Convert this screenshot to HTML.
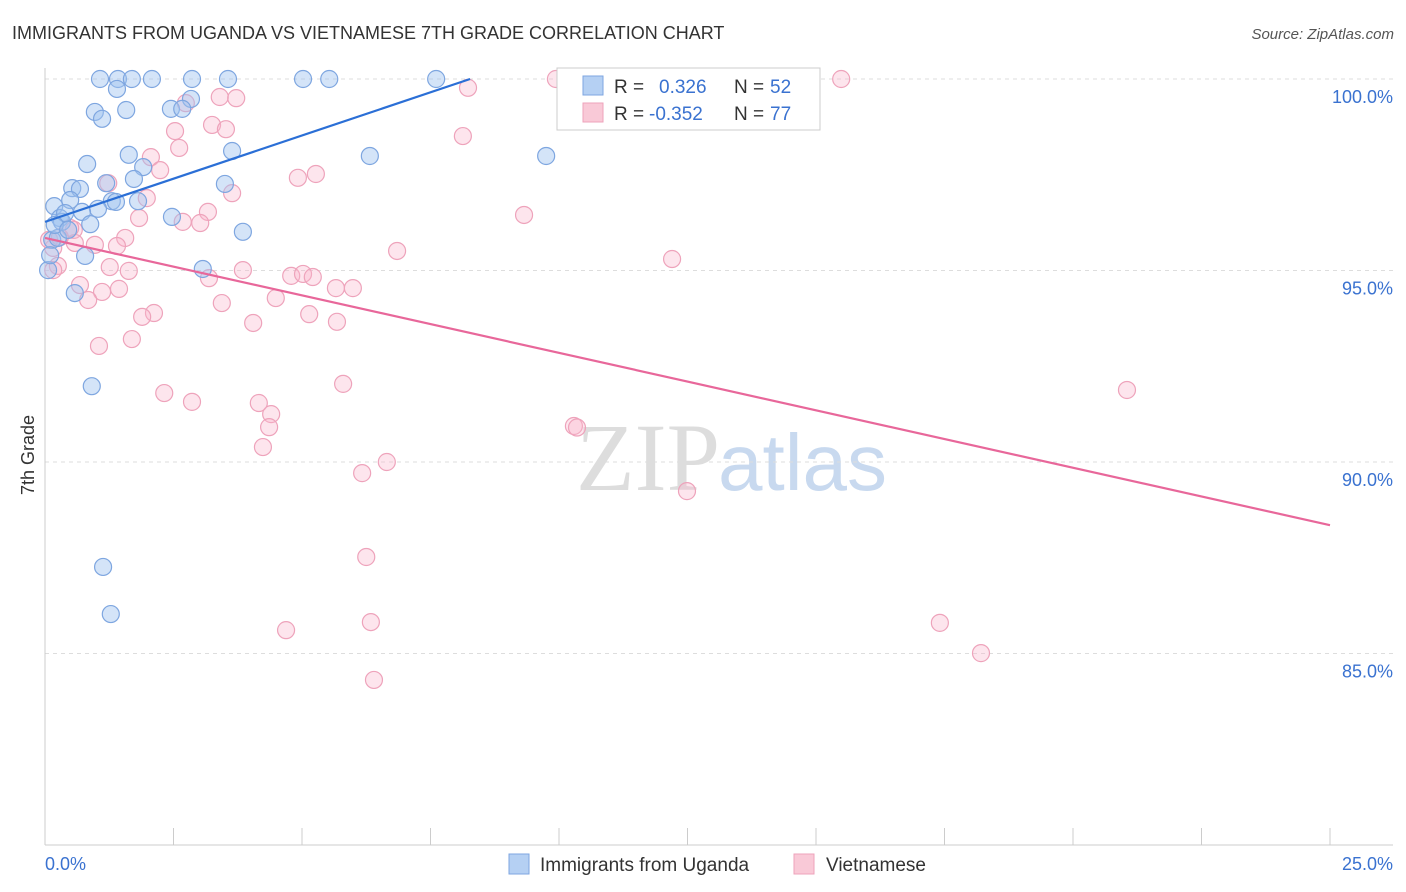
<!DOCTYPE html>
<html><head><meta charset="utf-8"><style>
body{margin:0;background:#fff;font-family:"Liberation Sans",sans-serif;}
svg{display:block}
</style></head><body>
<svg id="chart" width="1406" height="892">
<text x="12" y="39" font-size="18" fill="#333">IMMIGRANTS FROM UGANDA VS VIETNAMESE 7TH GRADE CORRELATION CHART</text>
<text x="1394" y="39" font-size="15" fill="#555" text-anchor="end" font-style="italic">Source: ZipAtlas.com</text>
<text x="720" y="490" font-size="96" fill="#ddd" text-anchor="end" font-family="Liberation Serif,serif">ZIP</text>
<text x="718" y="490" font-size="80" fill="#c8d9ef">atlas</text>
<text transform="translate(34,455) rotate(-90)" font-size="18" fill="#333" text-anchor="middle">7th Grade</text>
<g id="grid"></g><g id="axes"></g><g id="pts"></g><g id="lines"></g>
<g>
<rect x="557" y="68" width="263" height="62" fill="#fff" stroke="#ccc"/>
<rect x="583" y="76" width="20" height="19" fill="#b5d0f3" stroke="#7ea6e0"/>
<text x="614" y="93" font-size="19" fill="#333">R =</text><text x="659" y="93" font-size="19" fill="#3a72d0">0.326</text>
<text x="734" y="93" font-size="19" fill="#333">N =</text><text x="770" y="93" font-size="19" fill="#3a72d0">52</text>
<rect x="583" y="103" width="20" height="19" fill="#f9c9d7" stroke="#eea3bb"/>
<text x="614" y="120" font-size="19" fill="#333">R =</text><text x="649" y="120" font-size="19" fill="#3a72d0">-0.352</text>
<text x="734" y="120" font-size="19" fill="#333">N =</text><text x="770" y="120" font-size="19" fill="#3a72d0">77</text>
</g>
<g>
<rect x="509" y="854" width="20" height="20" fill="#b5d0f3" stroke="#7ea6e0"/>
<text x="540" y="871" font-size="19" fill="#333">Immigrants from Uganda</text>
<rect x="794" y="854" width="20" height="20" fill="#f9c9d7" stroke="#eea3bb"/>
<text x="826" y="871" font-size="19" fill="#333">Vietnamese</text>
</g>
</svg>
<script>
const yTicks=[100,95,90,85];
const yTickLabels=["100.0%","95.0%","90.0%","85.0%"];
const xTickLabels=["0.0%","25.0%"];
const blueX=[1.07,1.42,1.69,2.08,2.86,3.56,5.02,5.53,7.61,1.40,2.84,0.97,1.58,2.45,2.67,1.11,1.63,3.64,6.32,9.75,0.82,1.91,0.53,0.68,1.73,3.50,1.19,0.18,0.49,1.30,1.81,1.38,1.03,0.72,0.29,2.47,0.88,0.33,3.85,0.14,0.25,0.78,3.07,0.06,0.58,0.91,1.13,1.28,0.39,0.19,0.10,0.45];
const blueY=[100,100,100,100,100,100,100,100,100,99.74,99.48,99.14,99.19,99.22,99.22,98.96,98.02,98.12,97.99,97.99,97.78,97.70,97.15,97.13,97.39,97.26,97.28,96.68,96.84,96.81,96.81,96.79,96.61,96.53,96.37,96.40,96.21,96.27,96.01,95.80,95.85,95.38,95.04,95.01,94.41,91.98,87.26,86.03,96.50,96.19,95.40,96.06];
const pinkX=[9.94,15.49,8.23,3.40,3.72,2.74,8.13,3.25,3.52,2.53,2.61,2.06,2.24,4.92,5.27,1.23,3.64,1.98,1.83,3.17,2.68,3.02,9.32,1.56,0.56,0.97,1.40,0.16,0.58,6.85,12.20,0.25,1.26,1.63,3.85,4.79,5.02,5.21,3.19,0.68,1.44,1.11,5.66,5.99,4.49,0.84,3.44,2.12,1.89,5.14,4.05,5.68,1.69,1.05,5.80,2.32,2.86,4.16,4.40,4.36,21.05,10.29,4.24,6.65,6.17,12.49,6.25,6.34,4.69,17.41,18.21,6.40,0.16,0.08,0.29,0.49,10.35];
const pinkY=[100,100,99.77,99.53,99.50,99.37,98.51,98.80,98.69,98.64,98.20,97.96,97.62,97.42,97.52,97.28,97.02,96.89,96.37,96.53,96.27,96.24,96.45,95.85,96.06,95.67,95.64,95.59,95.72,95.51,95.30,95.12,95.09,94.99,95.01,94.86,94.91,94.83,94.80,94.62,94.52,94.44,94.54,94.54,94.28,94.23,94.15,93.89,93.79,93.86,93.63,93.66,93.21,93.03,92.04,91.80,91.57,91.54,91.25,90.91,91.88,90.94,90.39,90.00,89.71,89.24,87.52,85.82,85.61,85.80,85.01,84.31,95.01,95.80,95.87,96.11,90.90];
const blueTrendX=[0,8.27], blueTrendY=[96.27,100];
const pinkTrendX=[0,25], pinkTrendY=[95.85,88.35];
const NS="http://www.w3.org/2000/svg";
const sx=v=>45+v/25*1285;
const sy=v=>79+(100-v)*38.3;
function mk(tag,attrs,parent){const e=document.createElementNS(NS,tag);for(const k in attrs)e.setAttribute(k,attrs[k]);parent.appendChild(e);return e;}
const grid=document.getElementById('grid'),axes=document.getElementById('axes'),pts=document.getElementById('pts'),lines=document.getElementById('lines');
yTicks.forEach((t,i)=>{
 const l=mk('line',{x1:45,x2:1393,y1:sy(t),y2:sy(t),stroke:'#ddd','stroke-dasharray':'4,4'},grid);
 
 
 const tx=mk('text',{x:1393,y:sy(t)+24,'font-size':18,fill:'#3a72d0','text-anchor':'end'},axes);
 tx.textContent=yTickLabels[i];
 
 
});
const ya=mk('line',{x1:45,x2:45,y1:68,y2:845,stroke:'#ccc'},axes);


const xa=mk('line',{x1:45,x2:1393,y1:845,y2:845,stroke:'#ccc'},axes);


for(let i=0;i<=10;i++){
 const tk=mk('line',{x1:sx(i*2.5),x2:sx(i*2.5),y1:828,y2:845,stroke:'#ccc'},axes);
 
 
}
[[0,'start'],[25,'end']].forEach((p,i)=>{
 const tx=mk('text',{x:i?1393:45,y:870,'font-size':18,fill:'#3a72d0','text-anchor':p[1]},axes);
 tx.textContent=xTickLabels[i];
 
 
});
pinkX.forEach((x,i)=>{
 const c=mk('circle',{cx:sx(x),cy:sy(pinkY[i]),r:8.5,fill:'rgba(248,180,202,0.35)',stroke:'#eea3bb','stroke-width':1.2},pts);
 
 
});
blueX.forEach((x,i)=>{
 const c=mk('circle',{cx:sx(x),cy:sy(blueY[i]),r:8.5,fill:'rgba(160,196,240,0.45)',stroke:'#7ea6e0','stroke-width':1.2},pts);
 
 
});
const bl=mk('line',{x1:sx(blueTrendX[0]),y1:sy(blueTrendY[0]),x2:sx(blueTrendX[1]),y2:sy(blueTrendY[1]),stroke:'#2b6fd6','stroke-width':2.2},lines);


const pl=mk('line',{x1:sx(pinkTrendX[0]),y1:sy(pinkTrendY[0]),x2:sx(pinkTrendX[1]),y2:sy(pinkTrendY[1]),stroke:'#e8679a','stroke-width':2.2},lines);


</script>
</body></html>
